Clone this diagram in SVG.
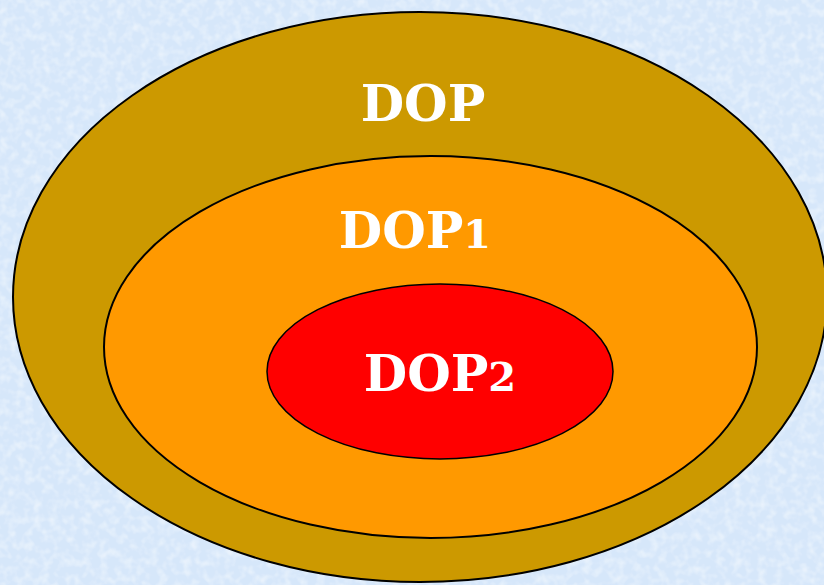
<svg xmlns="http://www.w3.org/2000/svg" width="824" height="585" viewBox="0 0 824 585">
  <defs>
    <filter id="tex" x="0" y="0" width="100%" height="100%">
      <feTurbulence type="fractalNoise" baseFrequency="0.12" numOctaves="2" seed="3" result="n"/>
      <feColorMatrix in="n" type="matrix" values="0 0 0 0 1  0 0 0 0 1  0 0 0 0 1  0 0 0 1.1 -0.45" result="w"/>
      <feComposite in="w" in2="SourceGraphic" operator="in"/>
    </filter>
  </defs>
  <style>
    .lbl { font-family: "DejaVu Serif", "Liberation Serif", serif; font-weight: bold; font-size: 50px; fill: #ffffff; text-anchor: middle; }
    .dig { font-size: 40px; }
    .ring { stroke: #000000; }
  </style>
  <rect x="0" y="0" width="824" height="585" fill="#d6e7fa"/>
  <rect x="0" y="0" width="824" height="585" fill="#d6e7fa" filter="url(#tex)" opacity="0.9"/>
  <g id="dop">
    <ellipse class="ring" cx="420" cy="297" rx="407" ry="285" fill="#cc9900" stroke-width="2"/>
    <text class="lbl" x="423" y="121">DOP</text>
  </g>
  <g id="dop1">
    <ellipse class="ring" cx="430.5" cy="347" rx="326.5" ry="191" fill="#ff9900" stroke-width="2"/>
    <text class="lbl" x="415" y="248">DOP<tspan class="dig">1</tspan></text>
  </g>
  <g id="dop2">
    <ellipse class="ring" cx="440" cy="371.5" rx="173" ry="87.5" fill="#ff0000" stroke-width="1.5"/>
    <text class="lbl" x="440" y="391">DOP<tspan class="dig">2</tspan></text>
  </g>
  <g id="connectors"/>
</svg>
